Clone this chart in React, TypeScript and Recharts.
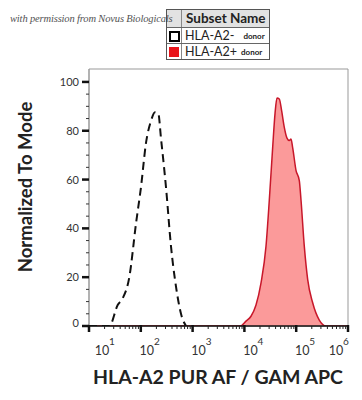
import React from 'react';
import { ComposedChart, Area, Line, XAxis, YAxis, ReferenceArea } from 'recharts';

// HLA-A2- donor (dashed, unfilled)
const negX = [10, 24.7, 35.8, 44.8, 60, 80.8, 101, 126, 157, 188, 218, 245, 306, 383, 479, 597, 746];
const negY = [0, 0, 8.6, 11.4, 20, 42, 57, 75, 84, 87.6, 87, 77, 57, 32.6, 16, 5, 0];

// HLA-A2+ donor (red filled)
const posX = [10, 8340, 10740, 13400, 16750, 20900, 26100, 30270, 35200, 39000, 42600, 47200, 52500, 58900, 66400, 73600, 79400, 85600, 99100, 114800, 123800, 143400, 166700, 208000, 279000, 376000, 1000000];
const posY = [0, 0, 2, 4, 8.6, 17.6, 32.6, 51.6, 73.4, 87, 93.4, 93, 88, 81.4, 77, 76, 76.6, 73, 63.8, 59.6, 51.6, 32.6, 19, 9.5, 2.4, 0, 0];

const xMajor = [10, 100, 1000, 10000, 100000, 1000000];
const xExp = ['1', '2', '3', '4', '5', '6'];
const yTicks = [0, 5, 10, 15, 20, 25, 30, 35, 40, 45, 50, 55, 60, 65, 70, 75, 80, 85, 90, 95, 100];
const yLabels = [0, 20, 40, 60, 80, 100];

const xTicks: number[] = [];
xMajor.forEach((m, i) => {
  xTicks.push(m);
  if (i < xMajor.length - 1) for (let k = 2; k <= 9; k++) xTicks.push(m * k);
});

const rows: { x: number; neg?: number; pos?: number }[] = [];
negX.forEach((x, i) => rows.push({ x, neg: negY[i] }));
posX.forEach((x, i) => {
  const r = rows.find(d => d.x === x);
  if (r) r.pos = posY[i];
  else rows.push({ x, pos: posY[i] });
});
rows.sort((a, b) => a.x - b.x);

const FONT = 'Lato, "Open Sans", sans-serif';

const XTick = (props: any) => {
  const { x, y, payload } = props;
  const v = payload.value;
  const idx = xMajor.indexOf(v);
  if (idx < 0) {
    return <line x1={x} x2={x} y1={y} y2={y + 3} stroke="#222" strokeWidth={1} />;
  }
  const dx = idx === 0 ? 13 : idx === xMajor.length - 1 ? -12 : 6;
  return (
    <g>
      <line x1={x} x2={x} y1={y - 1} y2={y + 6} stroke="#111" strokeWidth={2.5} />
      <text x={x + dx} y={y + 29} textAnchor="middle" fontSize={12.5} fill="#333" fontFamily={FONT}>
        10
      </text>
      <text x={x + dx + 10} y={y + 19} textAnchor="middle" fontSize={10} fill="#333" fontFamily={FONT}>
        {xExp[idx]}
      </text>
    </g>
  );
};

const YTick = (props: any) => {
  const { x, y, payload } = props;
  const v = payload.value;
  if (!yLabels.includes(v)) {
    return <line x1={x - 3} x2={x} y1={y} y2={y} stroke="#333" strokeWidth={1} />;
  }
  return (
    <g>
      <line x1={x - 7} x2={x} y1={y} y2={y} stroke="#111" strokeWidth={2.5} />
      <text x={x - 10} y={y + (v === 0 ? 1 : 4)} textAnchor="end" fontSize={11} fill="#333" fontFamily={FONT}>
        {v}
      </text>
    </g>
  );
};

const cell: React.CSSProperties = { borderTop: '1px solid #666', height: 16, boxSizing: 'border-box' };

export default function App() {
  return (
    <div style={{ position: 'relative', width: 354, height: 392, background: '#fff', fontFamily: FONT }}>
      <ComposedChart width={354} height={392} data={rows} margin={{ top: 61, right: 14, bottom: 34, left: 0 }}>
        <XAxis
          dataKey="x"
          type="number"
          scale="log"
          domain={[10, 1000000]}
          ticks={xTicks}
          interval={0}
          allowDataOverflow
          height={40}
          tickSize={0}
          tickMargin={0}
          tickLine={false}
          axisLine={{ stroke: '#111', strokeWidth: 1.5 }}
          tick={<XTick />}
        />
        <YAxis
          type="number"
          domain={[0, 105.3]}
          ticks={yTicks}
          interval={0}
          allowDataOverflow
          width={81}
          tickSize={0}
          tickMargin={0}
          tickLine={false}
          axisLine={{ stroke: '#999', strokeWidth: 1 }}
          tick={<YTick />}
        />
        <ReferenceArea x1={10} x2={1000000} y1={0} y2={105.3} fill="none" stroke="#999" strokeWidth={1} ifOverflow="visible" />
        <Area
          dataKey="pos"
          type="monotone"
          connectNulls
          fill="#fb9a9a"
          fillOpacity={1}
          stroke="#c8172a"
          strokeWidth={1.5}
          dot={false}
          activeDot={false}
          isAnimationActive={false}
        />
        <Line
          dataKey="neg"
          type="monotone"
          connectNulls
          stroke="#111"
          strokeWidth={2}
          strokeDasharray="8 5"
          dot={false}
          activeDot={false}
          isAnimationActive={false}
        />
        <text x={17} y={179} transform="rotate(-90 17 179)" textAnchor="middle" dominantBaseline="central" fontSize={18.5} fontWeight={700} fill="#222" fontFamily={FONT}>
          Normalized To Mode
        </text>
        <text x={210} y={376} textAnchor="middle" fontSize={19.5} fontWeight={700} fill="#222" fontFamily={FONT}>
          HLA-A2 PUR AF / GAM APC
        </text>
      </ComposedChart>

      <div
        style={{
          position: 'absolute', left: 158, top: 1, width: 102, border: '1px solid #555',
          background: '#fff', fontSize: 12.5, color: '#222', lineHeight: '16px',
        }}
      >
        <div style={{ display: 'flex', background: '#e2e2e2', height: 17 }}>
          <div style={{ width: 14, borderRight: '1px solid #888' }} />
          <div style={{ paddingLeft: 4, fontWeight: 700, fontSize: 13.5 }}>Subset Name</div>
        </div>
        <div style={{ display: 'flex', ...cell }}>
          <div style={{ width: 14, borderRight: '1px solid #888', position: 'relative' }}>
            <div style={{ position: 'absolute', left: 2, top: 3, width: 7, height: 7, border: '2px solid #000', background: '#fff' }} />
          </div>
          <div style={{ paddingLeft: 3 }}>HLA-A2-</div>
          <div style={{ paddingLeft: 9, fontSize: 8, fontWeight: 700 }}>donor</div>
        </div>
        <div style={{ display: 'flex', ...cell }}>
          <div style={{ width: 14, borderRight: '1px solid #888', position: 'relative' }}>
            <div style={{ position: 'absolute', left: 2, top: 3, width: 10, height: 10, background: '#e8141a' }} />
          </div>
          <div style={{ paddingLeft: 3 }}>HLA-A2+</div>
          <div style={{ paddingLeft: 4, fontSize: 8, fontWeight: 700 }}>donor</div>
        </div>
      </div>

      <div
        style={{
          position: 'absolute', left: 2, top: 5, fontFamily: '"Liberation Serif", serif', fontStyle: 'italic',
          fontSize: 10.5, letterSpacing: -0.15, color: '#333', whiteSpace: 'nowrap', opacity: 0.85,
        }}
      >
        with permission from Novus Biologicals
      </div>
    </div>
  );
}
